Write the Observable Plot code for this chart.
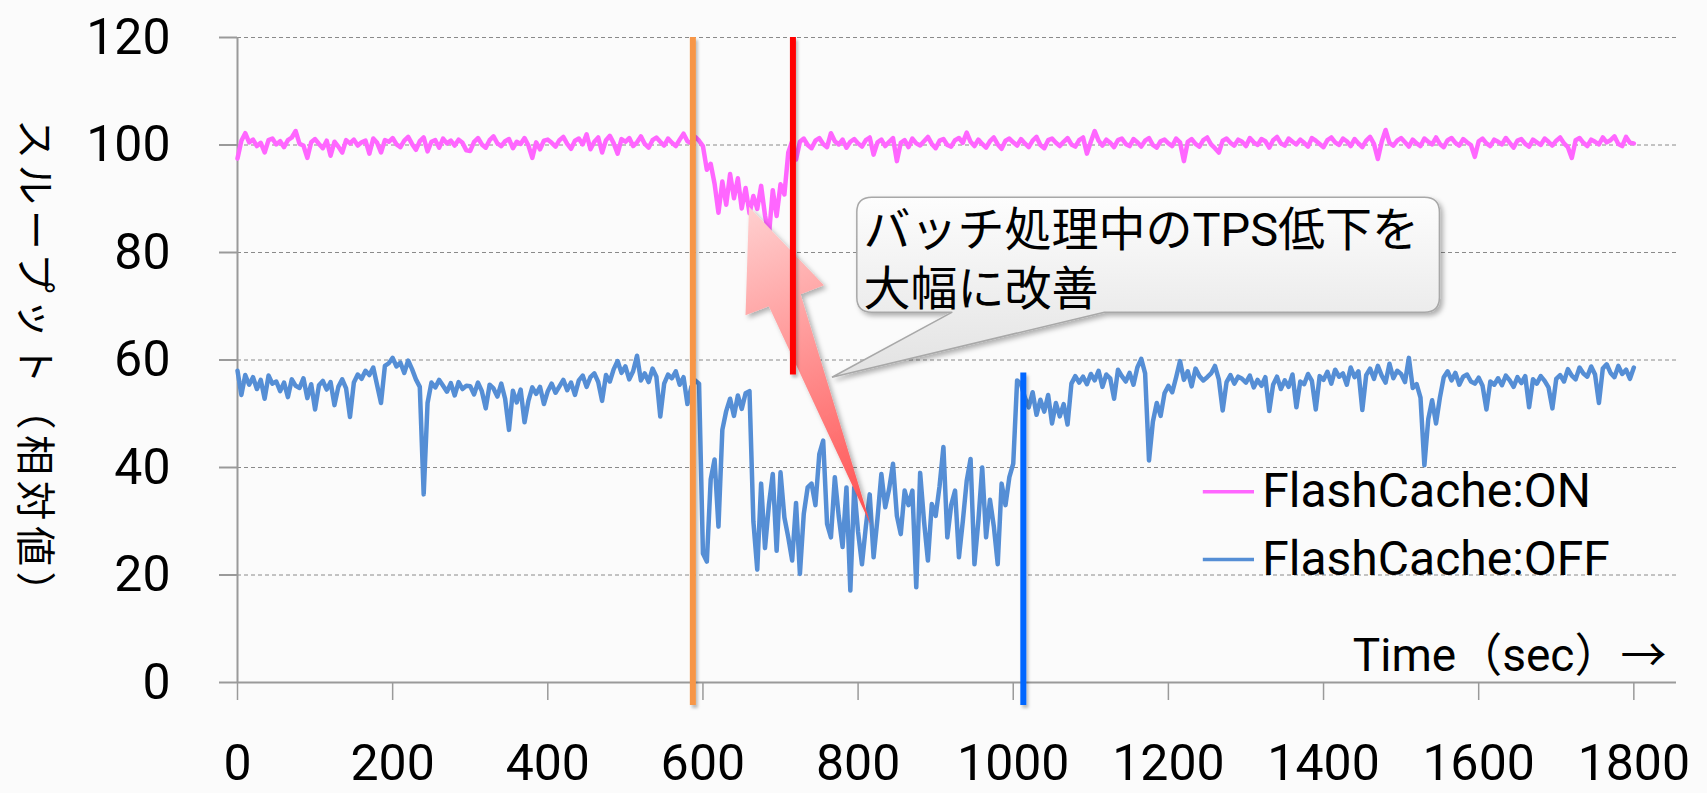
<!DOCTYPE html>
<html>
<head>
<meta charset="utf-8">
<script src="https://cdn.jsdelivr.net/npm/d3@7"></script>
<script src="https://cdn.jsdelivr.net/npm/@observablehq/plot@0.6"></script>
<style>
  html, body { margin: 0; padding: 0; background: #fbfbfb; }
  #chart { width: 1707px; height: 793px; }
  text[aria-label="y-title"], g[aria-label="y-title"] text { letter-spacing: 5.5px; }
</style>
</head>
<body>
<div id="chart"></div>
<script>
// ---------- data ----------
const sampleStep = 5; // seconds between samples
const seriesNames = ["FlashCache:ON", "FlashCache:OFF"];

const flashOn = [
  97.5, 100.8, 102.2, 100.5, 101.0, 99.8, 100.4, 98.6, 100.9, 101.2, 100.1, 100.7, 99.6, 100.9, 101.4, 102.6, 100.2, 99.9, 97.6, 100.5,
  101.1, 100.2, 99.4, 100.8, 98.0, 100.6, 99.7, 98.6, 100.9, 100.3, 101.0, 99.9, 100.5, 100.8, 98.4, 101.2, 100.4, 98.6, 100.9, 100.6,
  101.3, 100.1, 99.6, 100.8, 101.5, 100.2, 99.1, 100.7, 101.4, 98.8, 100.6, 100.9, 99.5, 101.2, 100.3, 100.8, 99.9, 101.0, 100.4, 99.0,
  98.9, 100.6, 101.3, 100.1, 99.5, 100.9, 101.6, 100.3, 99.8, 100.7, 101.1, 99.4, 100.6, 100.2, 101.3, 99.9, 97.6, 100.5, 99.2, 100.8,
  101.0, 100.4, 99.7, 100.9, 101.5, 100.2, 99.3, 100.8, 101.2, 100.1, 102.0, 99.2, 100.6, 101.4, 98.6, 100.9, 101.7, 100.3, 98.4, 101.1,
  100.6, 101.3, 99.8, 100.5, 101.6, 100.2, 99.5, 100.9, 101.4, 100.6, 99.9, 101.2, 100.4, 99.8, 101.0, 102.1, 100.7, 100.3, 101.5, 100.8,
  99.8, 95.4, 96.5, 92.8, 87.4, 93.2, 88.9, 94.6, 90.1, 93.8, 88.2, 92.0, 87.3, 90.5, 88.1, 92.4, 86.9, 83.1, 91.6, 86.8,
  92.7, 90.8, 98.6, 100.7, 97.3, 100.6, 101.2, 100.0, 99.4, 100.8, 101.3, 100.2, 99.6, 102.2, 100.7, 100.1, 101.0, 99.5, 100.6, 101.1,
  100.3, 99.7, 100.9, 101.4, 98.2, 100.5, 101.0, 99.8, 100.6, 101.3, 97.0, 100.4, 100.9, 99.6, 101.2, 100.3, 99.9, 100.7, 101.5, 100.2,
  99.4, 100.8, 101.1, 100.0, 99.7, 100.9, 101.3, 100.4, 102.3, 100.6, 99.8, 101.0, 100.2, 99.5, 100.7, 101.4, 100.1, 99.3, 100.8, 101.2,
  100.5, 99.9, 101.1, 100.3, 99.6, 100.8, 101.5, 100.0, 99.4, 100.9, 101.2, 100.4, 99.8, 100.6, 101.3, 100.1, 99.7, 100.9, 101.4, 98.4,
  100.6, 102.6, 100.8, 99.9, 101.0, 100.4, 99.6, 100.9, 101.2, 100.2, 99.8, 101.1, 100.5, 99.7, 100.8, 101.3, 100.0, 99.5, 100.7, 101.0,
  100.3, 99.8, 101.2, 100.5, 97.0, 100.6, 101.1, 100.2, 99.7, 100.9, 101.4, 100.1, 99.4, 98.6, 100.8, 101.2, 100.4, 99.9, 101.0, 100.6,
  99.8, 101.3, 100.5, 100.0, 101.1, 100.7, 99.5, 100.9, 101.5, 100.3, 99.9, 101.2, 100.6, 100.1, 101.0, 100.4, 99.7, 101.3, 100.8, 100.2,
  99.6, 100.9, 101.4, 100.5, 100.0, 101.2, 100.7, 99.8, 101.1, 100.3, 99.6, 100.8, 101.5, 100.2, 97.4, 100.6, 102.8, 100.4, 99.9, 100.8,
  101.3, 100.5, 99.7, 101.0, 100.3, 99.8, 101.2, 100.6, 100.1, 101.4, 100.2, 99.6, 100.9, 101.3, 100.4, 99.9, 101.1, 100.5, 100.0, 97.8,
  100.7, 101.2, 100.3, 99.8, 101.0, 100.6, 100.1, 101.3, 100.4, 99.5, 100.8, 101.1, 100.2, 99.7, 101.0, 100.5, 100.0, 101.2, 100.6, 99.9,
  100.8, 101.4, 100.3, 99.6, 97.6, 100.9, 101.3, 100.4, 99.8, 101.0, 100.6, 100.1, 101.4, 100.5, 100.9, 101.6, 100.2, 99.8, 101.5, 100.4, 100.3
];

const flashOff = [
  58.0, 53.5, 57.2, 55.4, 56.8, 54.6, 56.3, 52.8, 57.1, 55.6, 56.0, 54.2, 55.8, 53.1, 56.4, 55.2, 54.8, 56.6, 52.9, 55.5,
  50.8, 55.3, 56.1, 54.5, 55.9, 51.6, 55.0, 56.4, 54.7, 49.4, 55.8, 57.3, 56.5, 58.0, 57.2, 58.6, 55.3, 52.0, 58.9, 59.4,
  60.4, 58.8, 59.5, 57.6, 59.9, 58.3, 56.4, 55.0, 35.0, 52.0, 55.8, 54.9, 56.3, 55.2, 54.1, 55.7, 53.4, 55.9, 54.6, 55.2,
  55.1, 53.6, 55.8, 54.2, 51.0, 55.4, 54.7, 53.2, 55.6, 52.8, 47.0, 54.3, 52.1, 54.5, 48.4, 52.4, 54.9, 53.7, 55.0, 51.8,
  54.2, 55.6, 53.9, 55.1, 56.3, 54.4, 55.8, 53.5, 56.2, 57.1, 55.0, 56.8, 57.5, 55.9, 52.4, 57.2, 56.0, 58.3, 59.8, 57.6,
  58.8, 56.4, 57.9, 60.8, 56.2, 57.5, 55.9, 58.4, 56.9, 49.5, 55.6, 57.3, 56.6, 57.9, 55.4, 56.8, 51.8, 55.0, 56.2, 55.6,
  24.0, 22.5, 37.8, 41.5, 29.0, 47.0, 50.5, 52.8, 49.6, 53.4, 50.9, 53.8, 54.2, 30.0, 21.0, 37.0, 25.0, 33.0, 38.8, 24.5,
  39.1, 30.7, 27.0, 22.7, 33.4, 20.2, 31.4, 36.3, 37.0, 33.0, 42.5, 45.0, 29.5, 27.0, 38.2, 31.0, 25.2, 36.3, 17.1, 36.3,
  28.0, 22.0, 29.0, 35.0, 23.3, 30.5, 38.8, 32.6, 36.0, 40.7, 31.0, 27.6, 35.7, 33.0, 35.7, 17.7, 39.0, 30.0, 22.7, 33.2,
  31.0, 36.5, 43.8, 27.0, 33.0, 35.7, 23.3, 30.0, 37.5, 41.6, 22.0, 30.0, 40.0, 27.0, 34.0, 29.0, 22.0, 37.0, 33.0, 38.2,
  40.7, 56.2, 55.5, 53.0, 51.2, 54.0, 49.8, 52.6, 50.4, 53.5, 48.2, 52.0, 49.5, 51.8, 48.0, 55.6, 57.0, 55.8, 56.9, 55.5,
  57.4, 56.2, 58.0, 55.0, 57.3, 56.6, 52.8, 58.2, 57.0, 56.0, 57.6, 55.4, 58.6, 60.2, 57.5, 41.3, 48.5, 52.0, 49.6, 53.8,
  55.2, 54.0, 56.8, 59.8, 56.3, 57.9, 55.1, 58.4, 57.0, 56.2, 56.8, 57.5, 58.9, 56.4, 50.6, 55.9, 57.2, 55.6, 56.9, 56.5,
  55.8, 57.1, 54.9, 56.3, 55.2, 56.8, 50.5, 55.4, 56.9, 54.6, 56.2, 55.0, 57.3, 51.2, 56.0, 55.5, 57.4, 56.1, 50.8, 57.0,
  56.3, 57.8, 55.6, 58.2, 56.9, 57.5, 55.4, 58.6, 56.8, 57.9, 50.7, 57.2, 58.4, 56.5, 58.9, 57.1, 55.8, 59.3, 56.6, 58.0,
  57.4, 55.9, 60.4, 54.8, 55.5, 53.0, 40.4, 49.0, 52.5, 48.2, 53.0, 56.8, 57.9, 56.2, 57.6, 55.4, 56.9, 57.3, 56.0, 55.6,
  56.7, 55.2, 50.8, 56.0, 55.4, 56.6, 55.3, 57.1, 56.2, 55.0, 56.8, 55.7, 57.0, 51.2, 56.4, 55.6, 57.0, 56.1, 54.9, 51.0,
  56.5, 57.2, 56.0, 58.3, 57.1, 56.4, 58.6, 57.5, 56.9, 58.8, 57.3, 52.0, 58.4, 59.2, 57.6, 56.8, 58.9, 57.4, 58.2, 56.5, 58.6
];

const xTicks = [0, 200, 400, 600, 800, 1000, 1200, 1400, 1600, 1800];
const yTicks = [0, 20, 40, 60, 80, 100, 120];

// event markers (seconds) and their vertical extent (relative value)
const markerTimes = [587, 716, 1013];
const markerTop = [120, 120, 57.6];
const markerBottom = [-4.3, 57.2, -4.3];

// texts
const yTitle = "スループット（相対値）";
const xNote = "Time（sec）→";
const calloutText = "バッチ処理中のTPS低下を\n大幅に改善";

// ---------- annotation anchors (in data units) ----------
const xDomain = [0, 1855];
const yDomain = [0, 120];
const calloutBox = {x1: 799, x2: 1550, y1: 68.8, y2: 90.2};
const calloutTail = {baseLeft: 922, baseRight: 1118, tipX: 767, tipY: 56.7};
const calloutTextAt = {x: 807, y: 79.3};
const arrowTip = [660, 88.4];
const arrowTail = [817, 29.2];
const legendAt = {x1: 1245, x2: 1311, text: 1321, y: [35.5, 22.9]};
const xNoteAt = {x: 1842, y: 4.8};

// ---------- styles ----------
const seriesColors = ["#ff66ff", "#558ed5"];
const markerColors = ["#f79646", "#ff0000", "#0066ff"];
const axisGray = "#9a9a9a";
const fontStack = "Roboto, 'Noto Sans CJK JP', sans-serif";

// ---------- tables ----------
const rows = [];
flashOn.forEach((v, i) => rows.push({t: i * sampleStep, v, s: seriesNames[0]}));
flashOff.forEach((v, i) => rows.push({t: i * sampleStep, v, s: seriesNames[1]}));
const markers = markerTimes.map((t, i) => ({t, y1: markerBottom[i], y2: markerTop[i], c: markerColors[i]}));
const legendRows = seriesNames.map((name, i) => ({name, y: legendAt.y[i], c: seriesColors[i]}));

// ---------- custom render marks ----------
const defsMark = () => {
  const d = d3.create("svg:defs");
  const f = d.append("filter").attr("id", "softShadow")
    .attr("x", "-20%").attr("y", "-20%").attr("width", "150%").attr("height", "150%");
  f.append("feDropShadow").attr("dx", 3).attr("dy", 3).attr("stdDeviation", 2.5)
    .attr("flood-color", "#000").attr("flood-opacity", 0.3);
  const f2 = d.append("filter").attr("id", "lineShadow")
    .attr("filterUnits", "userSpaceOnUse")
    .attr("x", 0).attr("y", 0).attr("width", 1707).attr("height", 793);
  f2.append("feDropShadow").attr("dx", 2).attr("dy", 3).attr("stdDeviation", 1.5)
    .attr("flood-color", "#000").attr("flood-opacity", 0.25);
  const g = d.append("linearGradient").attr("id", "calloutFill")
    .attr("x1", 0).attr("y1", 0).attr("x2", 0).attr("y2", 1);
  g.append("stop").attr("offset", "0%").attr("stop-color", "#fdfdfd");
  g.append("stop").attr("offset", "100%").attr("stop-color", "#e2e2e2");
  return d.node();
};

const calloutMark = (index, scales) => {
  const {x, y} = scales;
  const X1 = x(calloutBox.x1), X2 = x(calloutBox.x2);
  const Y1 = y(calloutBox.y2), Y2 = y(calloutBox.y1);
  const r = 15;
  const bL = x(calloutTail.baseLeft), bR = x(calloutTail.baseRight);
  const tx = x(calloutTail.tipX), ty = y(calloutTail.tipY);
  const p = [
    `M${X1 + r},${Y1}`,
    `L${X2 - r},${Y1}`, `Q${X2},${Y1} ${X2},${Y1 + r}`,
    `L${X2},${Y2 - r}`, `Q${X2},${Y2} ${X2 - r},${Y2}`,
    `L${bR},${Y2}`, `L${tx},${ty}`, `L${bL},${Y2}`,
    `L${X1 + r},${Y2}`, `Q${X1},${Y2} ${X1},${Y2 - r}`,
    `L${X1},${Y1 + r}`, `Q${X1},${Y1} ${X1 + r},${Y1}`, "Z"
  ].join("");
  const g = d3.create("svg:g");
  g.append("path").attr("d", p)
    .attr("fill", "url(#calloutFill)")
    .attr("stroke", "#a8a8a8").attr("stroke-width", 1.5)
    .attr("filter", "url(#softShadow)");
  return g.node();
};

const arrowMark = (index, scales) => {
  const {x, y} = scales;
  const tx = x(arrowTip[0]), ty = y(arrowTip[1]);
  const ex = x(arrowTail[0]), ey = y(arrowTail[1]);
  const L = Math.hypot(ex - tx, ey - ty);
  const ux = (ex - tx) / L, uy = (ey - ty) / L;
  const px = -uy, py = ux;
  const headLen = 100, headHalf = 42, shaftHalf = 17;
  const bx = tx + ux * headLen, by = ty + uy * headLen;
  const pts = [
    [tx, ty],
    [bx + px * headHalf, by + py * headHalf],
    [bx + px * shaftHalf, by + py * shaftHalf],
    [ex, ey],
    [bx - px * shaftHalf, by - py * shaftHalf],
    [bx - px * headHalf, by - py * headHalf]
  ];
  const g = d3.create("svg:g");
  const grad = g.append("defs").append("linearGradient").attr("id", "arrowFill")
    .attr("gradientUnits", "userSpaceOnUse")
    .attr("x1", tx).attr("y1", ty).attr("x2", ex).attr("y2", ey);
  grad.append("stop").attr("offset", "0%").attr("stop-color", "#ffd0d0");
  grad.append("stop").attr("offset", "100%").attr("stop-color", "#ff4d4d");
  g.append("path").attr("d", "M" + pts.map(p => p.join(",")).join("L") + "Z")
    .attr("fill", "url(#arrowFill)")
    .attr("filter", "url(#softShadow)");
  return g.node();
};

// ---------- plot ----------
const chart = Plot.plot({
  width: 1707,
  height: 793,
  marginLeft: 237,
  marginRight: 31,
  marginTop: 37,
  marginBottom: 111,
  style: {background: "#fbfbfb", fontFamily: fontStack, color: "#000", overflow: "visible"},
  x: {domain: xDomain},
  y: {domain: yDomain},
  color: {type: "identity"},
  marks: [
    defsMark,
    Plot.gridY({ticks: yTicks.filter(d => d > 0), stroke: "#8a8a8a", strokeOpacity: 1, strokeWidth: 1, strokeDasharray: "4,3"}),
    Plot.ruleY([0], {stroke: axisGray, strokeWidth: 2}),
    Plot.ruleX([0], {y1: 0, y2: 120, stroke: axisGray, strokeWidth: 2}),
    Plot.axisY({ticks: yTicks, tickSize: 18, tickPadding: 49, fontSize: 50, stroke: axisGray, strokeWidth: 2, label: null}),
    Plot.axisX({ticks: xTicks, tickFormat: "d", tickSize: 18, tickPadding: 44, fontSize: 50, stroke: axisGray, strokeWidth: 1.5, label: null}),
    Plot.line(rows, {x: "t", y: "v", z: "s", stroke: d => seriesColors[seriesNames.indexOf(d.s)], strokeWidth: 4.5, strokeLinejoin: "round"}),
    calloutMark,
    Plot.text([calloutText], {x: calloutTextAt.x, y: calloutTextAt.y, textAnchor: "start", lineAnchor: "middle", lineHeight: 1.255, fontSize: 47, fill: "#000"}),
    arrowMark,
    Plot.ruleX(markers, {x: "t", y1: "y1", y2: "y2", stroke: "c", strokeWidth: 6, ariaLabel: () => "markers"}),
    Plot.ruleY(legendRows, {y: "y", x1: legendAt.x1, x2: legendAt.x2, stroke: "c", strokeWidth: 3.5}),
    Plot.text(legendRows, {x: legendAt.text, y: "y", text: "name", textAnchor: "start", fontSize: 48, fill: "#000"}),
    Plot.text([xNote], {x: xNoteAt.x, y: xNoteAt.y, textAnchor: "end", fontSize: 46, fill: "#000"}),
    Plot.text([yTitle], {frameAnchor: "left", dx: -204, dy: 8, rotate: 90, textAnchor: "middle", fontSize: 40, fill: "#000", ariaLabel: () => "y-title"})
  ]
});
document.getElementById("chart").appendChild(chart);
chart.querySelectorAll('[aria-label="markers"]').forEach(el => {
  const parent = el.tagName.toLowerCase() === "g" ? el : el.parentNode;
  parent.setAttribute("filter", "url(#lineShadow)");
});
chart.querySelectorAll('[aria-label="y-title"]').forEach(el => {
  el.style.letterSpacing = "5.5px";
  el.querySelectorAll && el.querySelectorAll("text").forEach(t => t.style.letterSpacing = "5.5px");
});
</script>
</body>
</html>
